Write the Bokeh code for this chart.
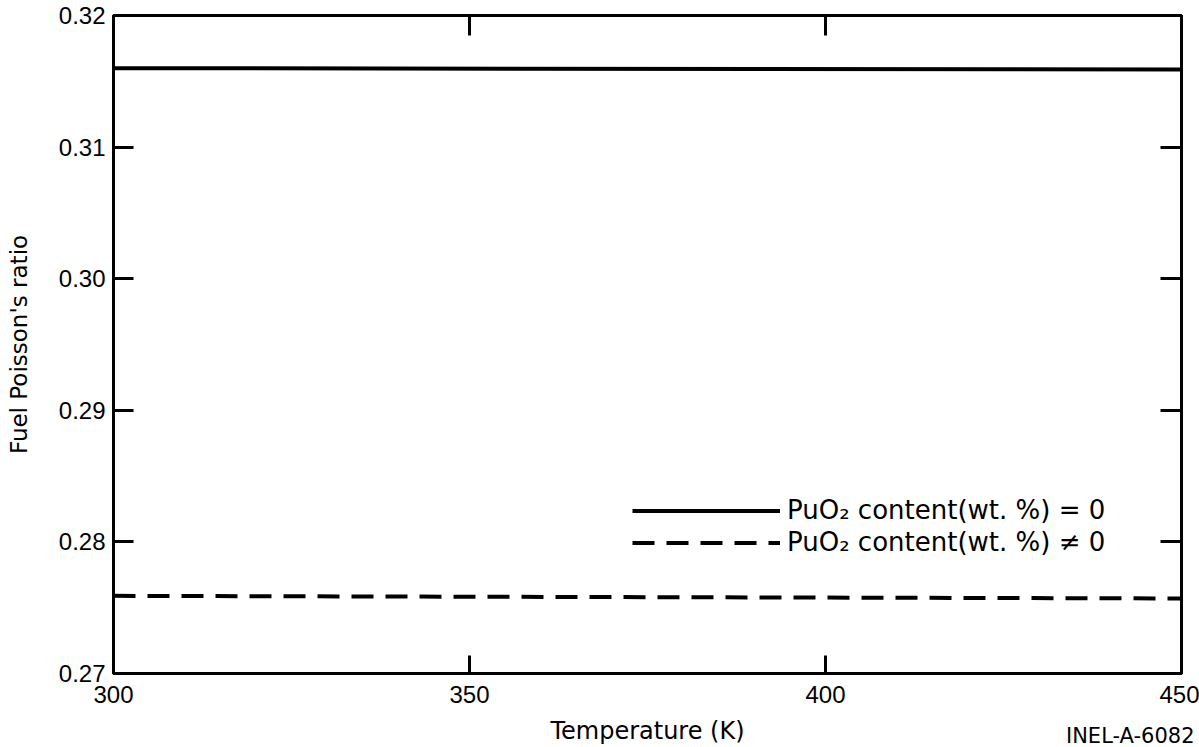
from bokeh.plotting import figure
from bokeh.models import (Range1d, LinearAxis, FixedTicker, Legend, LegendItem,
                          Title, PrintfTickFormatter)
from bokeh.embed import file_html
from bokeh.resources import INLINE

# ---- data ----
temperature_k = [300, 450]
poisson_uo2 = [0.3160, 0.3159]   # PuO2 content = 0
poisson_mox = [0.2759, 0.2757]   # PuO2 content != 0
x_ticks = [300, 350, 400, 450]
y_ticks = [0.27, 0.28, 0.29, 0.30, 0.31, 0.32]
legend_labels = ["PuO\u2082 content(wt. %) = 0", "PuO\u2082 content(wt. %) \u2260 0"]
x_title = "Temperature (K)"
y_title = "Fuel Poisson's ratio"
figure_id = "INEL-A-6082"

TXT = "DejaVu Sans"
TICKF = "Liberation Sans"

p = figure(width=1199, height=747,
           x_range=Range1d(300, 450), y_range=Range1d(0.27, 0.32),
           output_backend="svg", toolbar_location=None,
           min_border_left=113, min_border_right=18,
           min_border_top=15, min_border_bottom=74)
p.grid.visible = False
p.background_fill_color = "white"
p.border_fill_color = "white"
p.outline_line_color = "black"
p.outline_line_width = 3


def style_axis(ax, tick_in, labels=True):
    ax.axis_line_color = "black"
    ax.axis_line_width = 3
    ax.major_tick_line_color = "black"
    ax.major_tick_line_width = 3
    ax.major_tick_in = tick_in
    ax.major_tick_out = 0
    ax.minor_tick_line_color = None
    if labels:
        ax.major_label_text_font = TICKF
        ax.major_label_text_font_size = "24px"
        ax.major_label_text_color = "black"
    else:
        ax.major_label_text_font_size = "1px"
        ax.major_label_text_color = None
        ax.major_label_standoff = 0


# bottom axis
xa = p.xaxis[0]
xa.ticker = FixedTicker(ticks=x_ticks)
style_axis(xa, 18)
xa.major_label_standoff = 12
xa.axis_label = x_title
xa.axis_label_text_font = TXT
xa.axis_label_text_font_size = "24px"
xa.axis_label_text_font_style = "normal"
xa.axis_label_text_color = "black"
xa.axis_label_standoff = 11

# left axis
ya = p.yaxis[0]
ya.ticker = FixedTicker(ticks=y_ticks)
ya.formatter = PrintfTickFormatter(format="%.2f")
style_axis(ya, 20)
ya.major_label_standoff = 8
ya.axis_label = y_title
ya.axis_label_text_font = TXT
ya.axis_label_text_font_size = "23px"
ya.axis_label_text_font_style = "normal"
ya.axis_label_text_color = "black"
ya.axis_label_standoff = 24

# right and top axes (ticks only)
ra = LinearAxis(ticker=FixedTicker(ticks=y_ticks))
style_axis(ra, 21, labels=False)
p.add_layout(ra, "right")
ta = LinearAxis(ticker=FixedTicker(ticks=x_ticks))
style_axis(ta, 20, labels=False)
p.add_layout(ta, "above")

# data lines
r1 = p.line(temperature_k, poisson_uo2, line_width=4, line_color="black")
r2 = p.line(temperature_k, poisson_mox, line_width=4, line_color="black",
            line_dash="22 12")

legend = Legend(items=[LegendItem(label=legend_labels[0], renderers=[r1]),
                       LegendItem(label=legend_labels[1], renderers=[r2])],
                location=(519, 116), padding=0, margin=0, spacing=2,
                glyph_width=148, glyph_height=29, label_height=29,
                label_standoff=7,
                label_text_font=TXT, label_text_font_size="26px",
                label_text_color="black",
                background_fill_alpha=0, border_line_color=None)
p.add_layout(legend)

# figure identifier at the lower right, beside the x-axis title
p.add_layout(Title(text=figure_id, align="right", vertical_align="top",
                   standoff=-48, offset=-13,
                   text_font=TXT, text_font_size="21px",
                   text_font_style="normal", text_color="black"),
             "below")

open("out.html", "w").write(file_html(p, INLINE))
